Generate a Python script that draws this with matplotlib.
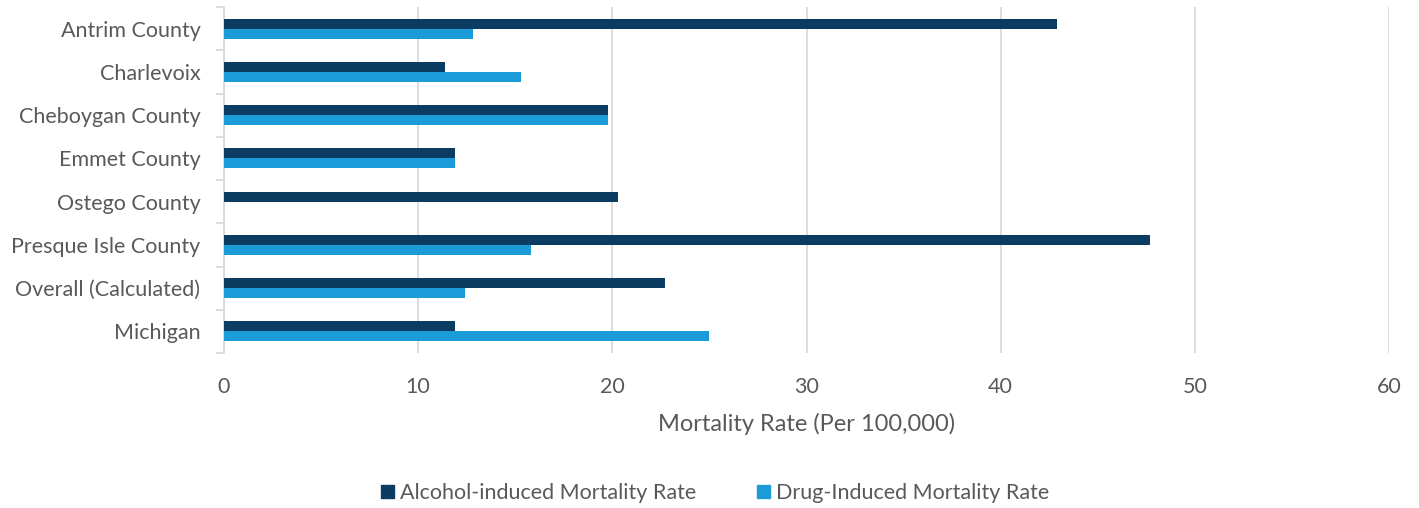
import numpy as np
import matplotlib.pyplot as plt
from matplotlib.patches import Patch

categories = ['Antrim County', 'Charlevoix', 'Cheboygan County', 'Emmet County',
              'Ostego County', 'Presque Isle County', 'Overall (Calculated)', 'Michigan']
alcohol_rate = [42.9, 11.4, 19.8, 11.9, 20.3, 47.7, 22.7, 11.9]
drug_rate = [12.8, 15.3, 19.8, 11.9, 0.0, 15.8, 12.4, 25.0]
x_ticks = [0, 10, 20, 30, 40, 50, 60]

alcohol_color = '#0B3D63'
drug_color = '#1B9CD8'
text_color = '#595959'
grid_color = '#D9D9D9'

plt.rcParams['font.family'] = ['Lato', 'DejaVu Sans']

fig = plt.figure(figsize=(14.19, 5.08), dpi=100)
ax = fig.add_axes([224 / 1419, 1 - 353 / 508, (1389 - 224) / 1419, 346 / 508])

y = np.arange(len(categories))
bar_h = 0.232
ax.barh(y - bar_h / 2, alcohol_rate, height=bar_h, color=alcohol_color, zorder=3)
ax.barh(y + bar_h / 2, drug_rate, height=bar_h, color=drug_color, zorder=3)

ax.set_ylim(len(categories) - 0.5, -0.5)
ax.set_xlim(0, 60)
ax.set_xticks(x_ticks)
ax.set_yticks(y)
ax.set_yticklabels(categories)
ax.set_yticks(np.arange(-0.5, len(categories)), minor=True)

ax.xaxis.grid(True, color=grid_color, linewidth=1.3, zorder=0)
for side in ['top', 'right', 'bottom']:
    ax.spines[side].set_visible(False)
ax.spines['left'].set_color(grid_color)
ax.spines['left'].set_linewidth(1.3)

ax.tick_params(axis='x', length=0, labelsize=15.5, labelcolor=text_color, pad=17)
ax.tick_params(axis='y', which='major', length=0, labelsize=15.5, labelcolor=text_color, pad=17)
ax.tick_params(axis='y', which='minor', length=6, width=1.3, color=grid_color)

ax.set_xlabel('Mortality Rate (Per 100,000)', fontsize=17, color=text_color, labelpad=12)

handles = [Patch(color=alcohol_color, label='Alcohol-induced Mortality Rate'),
           Patch(color=drug_color, label='Drug-Induced Mortality Rate')]
fig.legend(handles=handles, loc='center', bbox_to_anchor=(715 / 1419, 1 - 493 / 508),
           ncol=2, frameon=False, fontsize=15.5, labelcolor=text_color,
           handlelength=0.6, handleheight=0.6, handletextpad=0.3, columnspacing=2.8)

fig.savefig('out.png', dpi=100)
